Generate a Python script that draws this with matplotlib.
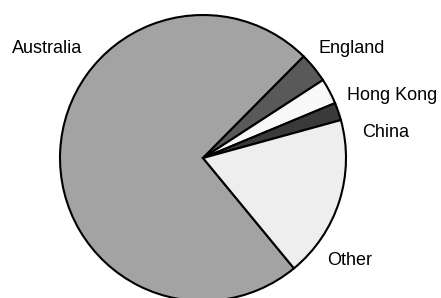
import matplotlib
matplotlib.use("Agg")
import matplotlib.pyplot as plt

categories = ["Australia", "England", "Hong Kong", "China", "Other"]
values = [73.4, 3.4, 2.9, 2.0, 18.3]
colors = ["#a3a3a3", "#595959", "#f8f8f8", "#3a3a3a", "#eeeeee"]

# label anchor positions in pixels (left x, baseline y from top)
label_pos = {
    "Australia": (12, 53),
    "England": (318, 53),
    "Hong Kong": (347, 100),
    "China": (362, 137),
    "Other": (327, 265),
}

W, H = 441, 298
fig = plt.figure(figsize=(W / 100, H / 100), dpi=100)
ax = fig.add_axes([0, 0, 1, 1])
cx, cy, r = 203, 158, 143
ax.pie(values, colors=colors, startangle=-50.5, counterclock=False, radius=1,
       wedgeprops=dict(edgecolor="black", linewidth=1.5))
ax.set_xlim(-cx / r, (W - cx) / r)
ax.set_ylim(-(H - cy) / r, cy / r)
ax.set_aspect("equal")
ax.axis("off")

for name in categories:
    x, y = label_pos[name]
    fig.text(x / W, 1 - y / H, name, ha="left", va="baseline",
             fontsize=13, family=["Liberation Sans", "DejaVu Sans"], color="black")

fig.savefig("out.png", dpi=100, facecolor="white")
